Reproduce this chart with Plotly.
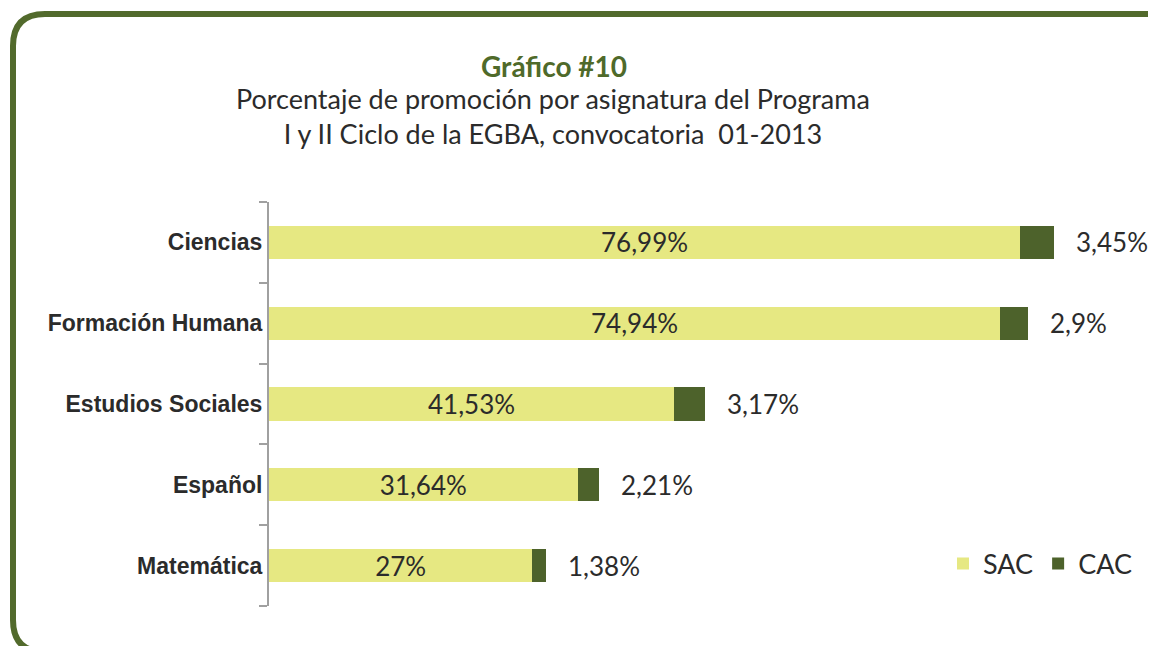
import plotly.graph_objects as go

categories = ["Ciencias", "Formación Humana", "Estudios Sociales", "Español", "Matemática"]
sac = [76.99, 74.94, 41.53, 31.64, 27.0]
cac = [3.45, 2.9, 3.17, 2.21, 1.38]
sac_labels = ["76,99%", "74,94%", "41,53%", "31,64%", "27%"]
cac_labels = ["3,45%", "2,9%", "3,17%", "2,21%", "1,38%"]

W, H = 1156, 646
OFF = 8  # page body margin offset
L, PW = 261, 878
T = 194
B = 48
R = W - L - PW
PH = H - T - B

def px(x):  # reference page pixel -> paper x
    return (x - OFF - L) / PW

def py(y):  # reference page pixel -> paper y
    return (H - B - (y - OFF)) / PH

SAC_COLOR = "#e6e882"
CAC_COLOR = "#4d622b"
TXT = "#2b2b2b"
FONT = "Lato, 'Open Sans', sans-serif"

fig = go.Figure()
fig.add_trace(go.Bar(
    y=categories, x=sac, orientation="h", name="SAC",
    marker=dict(color=SAC_COLOR, line=dict(width=0)),
    text=sac_labels, textposition="inside", insidetextanchor="middle",
    constraintext="none",
    textfont=dict(family=FONT, size=26, color=TXT),
    hoverinfo="skip",
))
fig.add_trace(go.Bar(
    y=categories, x=cac, orientation="h", name="CAC",
    marker=dict(color=CAC_COLOR, line=dict(width=0)),
    hoverinfo="skip",
))

for c, s, k, lab in zip(categories, sac, cac, cac_labels):
    fig.add_annotation(x=s + k, y=c, text=lab, showarrow=False,
                       xanchor="left", yanchor="middle", xshift=20,
                       font=dict(family=FONT, size=26, color=TXT))

# rounded border (reference page pixels)
x0, y0, x1, y1, r = 13, 14, 1190, 652, 32
path = (f"M {px(x0)} {py(y0 + r)} "
        f"Q {px(x0)} {py(y0)} {px(x0 + r)} {py(y0)} "
        f"L {px(x1 - r)} {py(y0)} "
        f"Q {px(x1)} {py(y0)} {px(x1)} {py(y0 + r)} "
        f"L {px(x1)} {py(y1 - r)} "
        f"Q {px(x1)} {py(y1)} {px(x1 - r)} {py(y1)} "
        f"L {px(x0 + r)} {py(y1)} "
        f"Q {px(x0)} {py(y1)} {px(x0)} {py(y1 - r)} Z")
fig.add_shape(type="path", path=path, xref="paper", yref="paper",
              line=dict(color="#526a2c", width=6), layer="below")

fig.add_annotation(x=px(554), y=py(66), xref="paper", yref="paper",
                   xanchor="center", yanchor="middle",
                   text="<b>Gráfico #10</b>", showarrow=False,
                   font=dict(family=FONT, size=28, color="#4f6a2a"))
fig.add_annotation(x=px(553), y=py(116), xref="paper", yref="paper",
                   xanchor="center", yanchor="middle", align="center",
                   text="Porcentaje de promoción por asignatura del Programa<br>I y II Ciclo de la EGBA, convocatoria  01-2013",
                   showarrow=False,
                   font=dict(family=FONT, size=27, color=TXT))

fig.update_layout(
    width=W, height=H,
    margin=dict(l=L, r=R, t=T, b=B),
    barmode="stack", bargap=0.59,
    uniformtext=dict(mode=False),
    plot_bgcolor="white", paper_bgcolor="white",
    showlegend=True,
    legend=dict(orientation="h", x=px(943), y=py(564), xanchor="left", yanchor="middle",
                font=dict(family=FONT, size=27, color=TXT), traceorder="normal",
                bgcolor="rgba(0,0,0,0)", itemwidth=30),
    xaxis=dict(range=[0, 90], visible=False, fixedrange=True),
    yaxis=dict(autorange="reversed", showline=True, linecolor="#a0a0a0", linewidth=2,
               ticks="outside", tickson="boundaries", ticklen=8, tickcolor="#a0a0a0",
               tickwidth=2, showgrid=False, zeroline=False,
               tickfont=dict(family="'Liberation Sans Narrow', 'Arial Narrow', sans-serif",
                             size=23, color=TXT),
               ),
)
fig.update_yaxes(tickmode="array", tickvals=categories,
                 ticktext=[f"<b>{c}</b>" for c in categories])

fig.write_html("out.html")
